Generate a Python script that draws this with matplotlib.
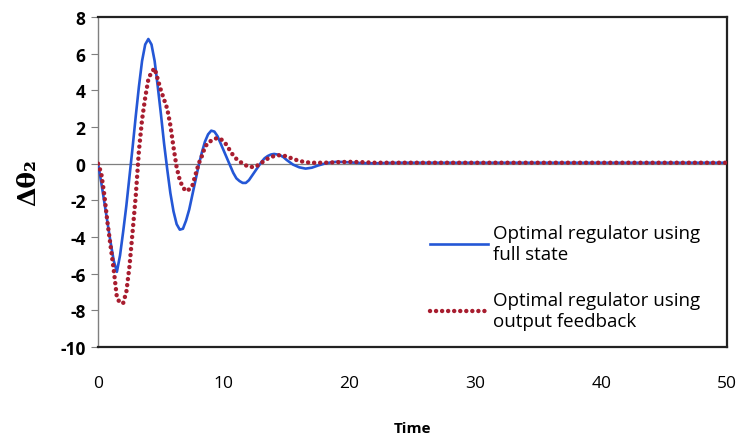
import matplotlib
matplotlib.use("Agg")
import matplotlib.pyplot as plt

# ---- data ----
t_full = [0, 0.25, 0.5, 0.75, 1.0, 1.25, 1.5, 1.75, 2.0, 2.25, 2.5, 2.75, 3.0, 3.25, 3.5, 3.75,
          4.0, 4.25, 4.5, 4.75, 5.0, 5.25, 5.5, 5.75, 6.0, 6.25, 6.5, 6.75, 7.0, 7.25, 7.5, 7.75,
          8.0, 8.25, 8.5, 8.75, 9.0, 9.25, 9.5, 9.75, 10.0, 10.25, 10.5, 10.75, 11.0, 11.25, 11.5,
          11.75, 12.0, 12.25, 12.5, 12.75, 13.0, 13.25, 13.5, 13.75, 14.0, 14.25, 14.5, 14.75, 15.0,
          15.5, 16.0, 16.5, 17.0, 17.5, 18.0, 18.5, 19.0, 19.5, 20.0, 21.0, 22.0, 23.0, 24.0, 25.0,
          30.0, 35.0, 40.0, 45.0, 50.0]
y_full = [0, -1.0, -2.1, -3.2, -4.3, -5.3, -5.9, -5.0, -3.7, -2.3, -0.7, 0.9, 2.6, 4.2, 5.6, 6.5,
          6.8, 6.5, 5.6, 4.2, 2.7, 1.1, -0.3, -1.6, -2.6, -3.3, -3.6, -3.55, -3.1, -2.5, -1.7, -0.9,
          -0.1, 0.6, 1.2, 1.6, 1.8, 1.75, 1.5, 1.1, 0.7, 0.3, -0.1, -0.5, -0.8, -0.95, -1.05,
          -1.05, -0.9, -0.65, -0.4, -0.15, 0.1, 0.3, 0.42, 0.5, 0.53, 0.5, 0.45, 0.35, 0.2,
          -0.05, -0.2, -0.27, -0.22, -0.1, 0.0, 0.07, 0.1, 0.09, 0.07, 0.03, 0.02, 0.04, 0.05, 0.05,
          0.05, 0.05, 0.05, 0.05, 0.05]

t_out = [0, 0.25, 0.5, 0.75, 1.0, 1.25, 1.5, 1.75, 2.0, 2.25, 2.5, 2.75, 3.0, 3.25, 3.5, 3.75,
         4.0, 4.25, 4.5, 4.75, 5.0, 5.25, 5.5, 5.75, 6.0, 6.25, 6.5, 6.75, 7.0, 7.25, 7.5, 7.75,
         8.0, 8.25, 8.5, 8.75, 9.0, 9.25, 9.5, 9.75, 10.0, 10.25, 10.5, 10.75, 11.0, 11.5, 12.0,
         12.5, 13.0, 13.5, 14.0, 14.5, 15.0, 15.5, 16.0, 16.5, 17.0, 18.0, 19.0, 20.0, 21.0, 22.0,
         25.0, 30.0, 35.0, 40.0, 45.0, 50.0]
y_out = [0, -0.5, -1.7, -3.2, -4.5, -5.8, -7.3, -7.6, -7.6, -7.0, -5.6, -3.7, -1.75, 0.7, 2.4, 3.6,
         4.6, 5.0, 5.2, 4.6, 4.0, 3.5, 3.0, 2.1, 0.9, -0.2, -0.9, -1.3, -1.5, -1.4, -1.2, -0.6,
         0.0, 0.4, 0.9, 1.15, 1.25, 1.35, 1.4, 1.35, 1.2, 1.0, 0.7, 0.45, 0.26, 0.0, -0.18,
         -0.18, 0.05, 0.28, 0.42, 0.47, 0.4, 0.26, 0.15, 0.08, 0.05, 0.05, 0.08, 0.1, 0.08, 0.05,
         0.05, 0.05, 0.05, 0.05, 0.05, 0.05]

label_full = "Optimal regulator using\nfull state"
label_out = "Optimal regulator using\noutput feedback"
x_ticks = [0, 10, 20, 30, 40, 50]
y_ticks = [-10, -8, -6, -4, -2, 0, 2, 4, 6, 8]

fig = plt.figure(figsize=(7.41, 4.39), dpi=100)
ax = fig.add_axes([0.1323, 0.2073, 0.8487, 0.7517])

ax.axhline(0, color="#7f7f7f", lw=0.9, zorder=1)
ax.plot(t_full, y_full, color="#2457d6", lw=1.9, label=label_full, zorder=3)
ax.plot(t_out, y_out, color="#a81d2f", lw=3.2, linestyle=(0, (0.01, 1.35)),
        dash_capstyle="round", label=label_out, zorder=4)

ax.set_xlim(0, 50)
ax.set_ylim(-10, 8)
ax.set_xticks(x_ticks)
ax.set_yticks(y_ticks)
ax.set_xticklabels([str(v) for v in x_ticks], fontsize=12.5, family="Open Sans")
ax.set_yticklabels([str(v) for v in y_ticks], fontsize=12.5, family="Open Sans", fontweight="bold")
ax.tick_params(axis="x", length=0, pad=20)
ax.tick_params(axis="y", length=5, width=0.8, color="#7f7f7f", direction="out", pad=4)

for s in ["top", "right", "bottom"]:
    ax.spines[s].set_color("#222222")
    ax.spines[s].set_linewidth(1.6)
ax.spines["left"].set_color("#7f7f7f")
ax.spines["left"].set_linewidth(1.0)

ax.set_xlabel("Time", fontsize=11, fontweight="bold", family="Open Sans", labelpad=22)
ax.set_ylabel("Δθ₂", fontsize=18, fontweight="bold", family="DejaVu Serif", labelpad=14)

leg = ax.legend(loc="upper left", bbox_to_anchor=(0.528, 0.373), frameon=False,
                prop={"family": "Open Sans", "size": 13.5}, handlelength=3.1,
                handletextpad=0.25, labelspacing=1.5, borderpad=0, borderaxespad=0)

fig.savefig("out.png", dpi=100)
